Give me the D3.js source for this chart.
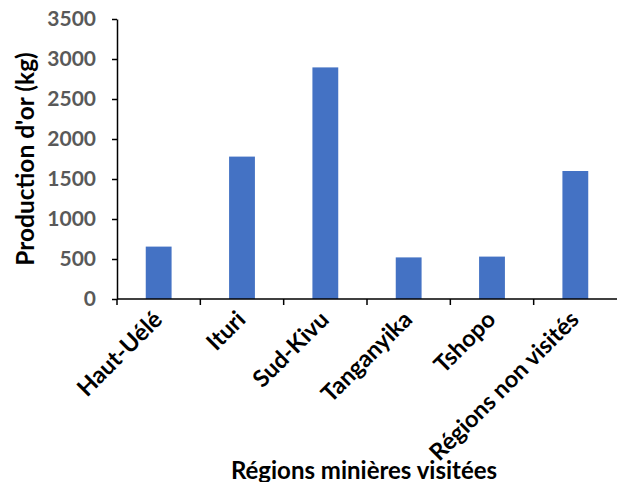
<!DOCTYPE html>
<html>
<head>
<meta charset="utf-8">
<script src="https://cdn.jsdelivr.net/npm/d3@7"></script>
<style>
  html, body { margin: 0; padding: 0; background: #fff; }
  svg { display: block; }
  text { font-family: Lato, "Open Sans", sans-serif; font-weight: bold; }
</style>
</head>
<body>
<svg id="chart" width="617" height="482"></svg>
<script>
const categories = ["Haut-Uélé", "Ituri", "Sud-Kivu", "Tanganyika", "Tshopo", "Régions non visités"];
const production = [655, 1780, 2895, 520, 530, 1600];
const yTicks = [0, 500, 1000, 1500, 2000, 2500, 3000, 3500];
const yTitle = "Production d'or (kg)";
const xTitle = "Régions minières visitées";

const W = 617, H = 482;
const m = { left: 117, right: 0, top: 19, bottom: 183 };
const svg = d3.select("#chart");

const x = d3.scaleBand().domain(categories).range([m.left, W - m.right]).paddingInner(0.69).paddingOuter(0.345);
const xb = d3.scaleBand().domain(categories).range([m.left, W - m.right]);
const y = d3.scaleLinear().domain([0, 3500]).range([H - m.bottom, m.top]);

// bars
svg.append("g").selectAll("rect").data(categories).join("rect")
  .attr("x", d => x(d))
  .attr("width", x.bandwidth())
  .attr("y", (d, i) => y(production[i]))
  .attr("height", (d, i) => y(0) - y(production[i]))
  .attr("fill", "#4472C4");

// y axis
const gy = svg.append("g").attr("transform", `translate(${m.left},0)`)
  .call(d3.axisLeft(y).tickValues(yTicks).tickFormat(d3.format("d")).tickSize(5).tickPadding(16).tickSizeOuter(0));
gy.select(".domain").attr("stroke", "#000").attr("stroke-width", 1.5);
gy.selectAll(".tick line").attr("stroke", "#000").attr("stroke-width", 1.5);
gy.selectAll(".tick text").attr("fill", "#595959").style("font-size", "21px").style("font-family", "Lato, sans-serif").style("font-weight", "bold");

// x axis
const gx = svg.append("g").attr("transform", `translate(0,${y(0)})`);
gx.append("line").attr("x1", m.left).attr("x2", W).attr("y1", 0).attr("y2", 0)
  .attr("stroke", "#000").attr("stroke-width", 1.5);
const boundaries = categories.map(c => xb(c));
gx.selectAll("line.tk").data(boundaries).join("line").attr("class", "tk")
  .attr("x1", d => d).attr("x2", d => d).attr("y1", 0).attr("y2", 6)
  .attr("stroke", "#000").attr("stroke-width", 1.5);
gx.selectAll("text.cat").data(categories).join("text").attr("class", "cat")
  .attr("text-anchor", "end")
  .attr("fill", "#000")
  .style("font-size", "23.5px")
  .text(d => d)
  .attr("transform", d => `translate(${xb(d) + xb.bandwidth() / 2 + 5},${22}) rotate(-45)`);

// titles
svg.append("text")
  .attr("transform", `translate(34,${(y(0) + y(3500)) / 2}) rotate(-90)`)
  .attr("text-anchor", "middle")
  .attr("fill", "#000")
  .style("font-size", "24.5px")
  .text(yTitle);
svg.append("text")
  .attr("x", 364).attr("y", 479)
  .attr("text-anchor", "middle")
  .attr("fill", "#000")
  .style("font-size", "24px")
  .text(xTitle);
</script>
</body>
</html>
